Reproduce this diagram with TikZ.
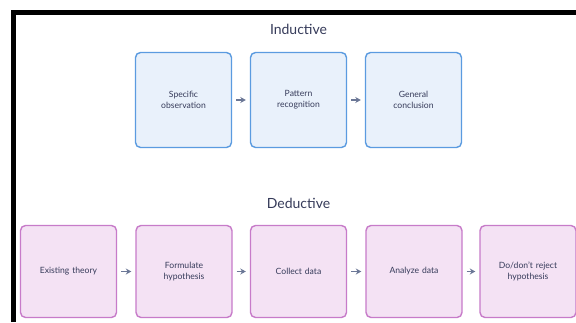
\documentclass[tikz,border=0pt]{standalone}
\usepackage{fontspec}
\setmainfont{Lato}
\usetikzlibrary{arrows.meta}
\definecolor{indline}{HTML}{5B9BE0}
\definecolor{indfill}{HTML}{E9F1FB}
\definecolor{dedline}{HTML}{C77BC9}
\definecolor{dedfill}{HTML}{F4E2F4}
\definecolor{ink}{HTML}{363B5A}
\definecolor{arrowc}{HTML}{6B7796}
\begin{document}
\begin{tikzpicture}[x=1pt,y=-1pt,
    indbox/.style={draw=indline,fill=indfill,line width=1.4pt,rounded corners=5pt,
      minimum width=96pt,minimum height=95pt,text width=80pt,align=center,
      font=\fontsize{8.6}{11}\selectfont,text=ink},
    dedbox/.style={indbox,draw=dedline,fill=dedfill,minimum height=92pt},
    flow/.style={-{Stealth[length=5.5pt,width=6pt]},line width=1.4pt,arrowc,
      shorten <=4pt,shorten >=4pt},
    heading/.style={font=\fontsize{14}{17}\selectfont,text=ink}]
      \useasboundingbox (0,0) rectangle (576,322);
      \fill[white] (0,0) rectangle (576,322);
      \draw[line width=5pt,line join=miter] (13.5,322) -- (13.5,12.5) -- (576,12.5);
      \node[heading] (indtitle) at (298.5,29) {Inductive};
      \node[indbox] (obs) at (183.5,100) {Specific\\observation};
      \node[indbox] (pat) at (298.5,100) {Pattern\\recognition};
      \node[indbox] (gen) at (413.5,100) {General\\conclusion};
      \draw[flow] (obs) -- (pat);
      \draw[flow] (pat) -- (gen);
      \node[heading] (dedtitle) at (298.5,203) {Deductive};
      \node[dedbox] (theory) at (68.5,271.5) {Existing theory};
      \node[dedbox] (hypo) at (184,271.5) {Formulate\\hypothesis};
      \node[dedbox] (collect) at (298.5,271.5) {Collect data};
      \node[dedbox] (analyze) at (414,271.5) {Analyze data};
      \node[dedbox] (reject) at (528,271.5) {Do/don't reject\\hypothesis};
      \draw[flow] (theory) -- (hypo);
      \draw[flow] (hypo) -- (collect);
      \draw[flow] (collect) -- (analyze);
      \draw[flow] (analyze) -- (reject);
\end{tikzpicture}
\end{document}
